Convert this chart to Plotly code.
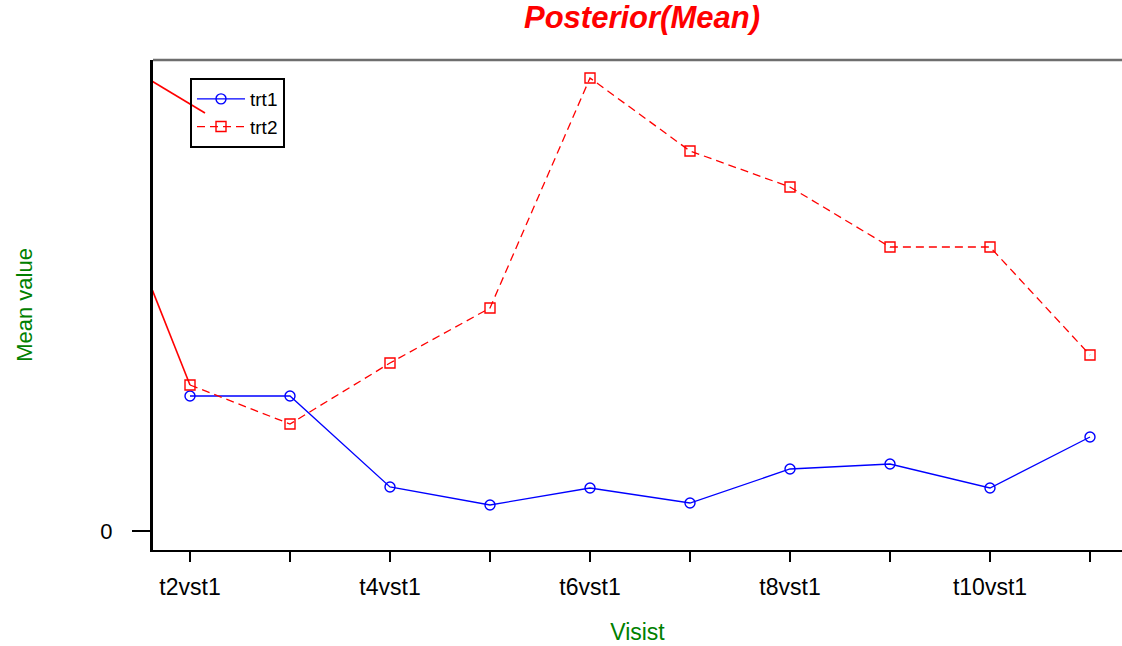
import plotly.graph_objects as go

categories = ["t2vst1", "t3vst1", "t4vst1", "t5vst1", "t6vst1",
              "t7vst1", "t8vst1", "t9vst1", "t10vst1", "t11vst1"]
tick_labels = ["t2vst1", "", "t4vst1", "", "t6vst1", "", "t8vst1", "", "t10vst1", ""]
trt1 = [1.35, 1.35, 0.44, 0.26, 0.43, 0.28, 0.62, 0.67, 0.43, 0.94]
trt2 = [1.46, 1.07, 1.68, 2.23, 4.53, 3.80, 3.44, 2.84, 2.84, 1.76]
# stray solid red segments that enter from the left of the panel
stray1_x = [-0.5, 0.0]
stray1_y = [2.72, 1.46]
stray2_x = [-0.5, 0.15]
stray2_y = [4.57, 4.18]

xpos = list(range(len(categories)))

fig = go.Figure()
fig.add_trace(go.Scatter(x=stray1_x, y=stray1_y, mode="lines", showlegend=False,
                         line=dict(color="red", width=1.6), hoverinfo="skip"))
fig.add_trace(go.Scatter(x=stray2_x, y=stray2_y, mode="lines", showlegend=False,
                         line=dict(color="red", width=1.6), hoverinfo="skip"))
fig.add_trace(go.Scatter(x=xpos, y=trt1, mode="lines+markers", name="trt1",
                         line=dict(color="blue", width=1.3),
                         marker=dict(symbol="circle-open", size=10, color="blue",
                                     line=dict(width=1.4, color="blue"))))
fig.add_trace(go.Scatter(x=xpos, y=trt2, mode="lines+markers", name="trt2",
                         line=dict(color="red", width=1.3, dash="8px,5px"),
                         marker=dict(symbol="square-open", size=10, color="red",
                                     line=dict(width=1.4, color="red"))))

fig.update_layout(
    width=1122, height=646,
    margin=dict(l=153, r=0, t=60, b=96),
    paper_bgcolor="white", plot_bgcolor="white",
    font=dict(family="Liberation Sans, Arial, sans-serif", color="black"),
    title=dict(text="<b><i>Posterior(Mean)</i></b>",
               font=dict(size=31, color="red", family="Liberation Sans, Arial, sans-serif"),
               x=642 / 1122, xanchor="center", xref="container",
               y=1 - 17 / 646, yanchor="middle", yref="container"),
    xaxis=dict(range=[-0.37, 9.32], tickmode="array", tickvals=xpos, ticktext=tick_labels,
               showgrid=False, zeroline=False, showline=True, linecolor="black", linewidth=2,
               ticks="outside", ticklen=10, tickwidth=2, tickcolor="black",
               tickfont=dict(size=23, color="black"), ticklabelstandoff=5,
               title=dict(text="Visist", font=dict(size=23, color="green"), standoff=25)),
    yaxis=dict(range=[-0.19, 4.71], tickmode="array", tickvals=[0], ticktext=["0"],
               showgrid=False, zeroline=False, showline=True, linecolor="black", linewidth=3,
               ticks="outside", ticklen=18, tickwidth=2, tickcolor="black",
               tickfont=dict(size=22, color="black"), ticklabelstandoff=15,
               title=dict(text="Mean value",
                          font=dict(size=22, color="green",
                                    family="Liberation Sans Narrow, Liberation Sans, Arial"),
                          standoff=62)),
    legend=dict(x=(190 - 153) / 969, y=(550 - 78) / 490, xanchor="left", yanchor="top",
                bgcolor="rgba(0,0,0,0)", bordercolor="black", borderwidth=2,
                font=dict(size=19, color="black"), itemwidth=48,
                tracegroupgap=0),
    shapes=[dict(type="line", xref="paper", yref="paper", x0=0, x1=1, y0=1, y1=1,
                 line=dict(color="#6e6e6e", width=2.5))],
)

fig.write_html("out.html", config={"displayModeBar": False},
               post_script="document.body.style.margin='0';document.body.style.overflow='hidden';")
